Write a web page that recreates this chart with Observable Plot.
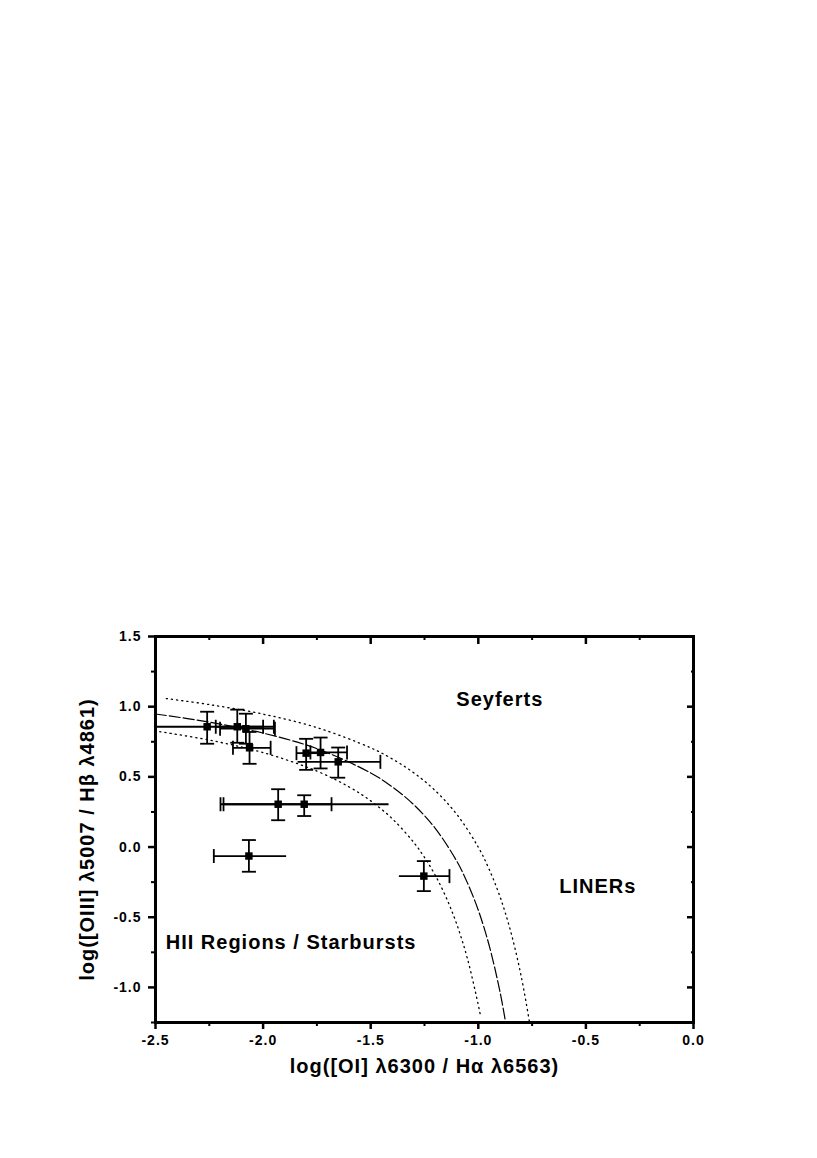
<!DOCTYPE html>
<html>
<head>
<meta charset="utf-8">
<script src="https://cdn.jsdelivr.net/npm/d3@7"></script>
<script src="https://cdn.jsdelivr.net/npm/@observablehq/plot@0.6"></script>
<style>
  html, body { margin: 0; padding: 0; background: #fff; }
  #chart svg text { letter-spacing: 1px; }
</style>
</head>
<body>
<div id="chart"></div>
<script>
// ---- data ----
const ptX  = [-2.26, -2.12, -2.08, -2.063, -1.80, -1.733, -1.651, -1.93, -1.809, -2.066, -1.253];
const ptY  = [0.857, 0.857, 0.843, 0.707, 0.669, 0.674, 0.607, 0.305, 0.305, -0.064, -0.207];
const ptXlo = [-2.56, -2.22, -2.20, -2.14, -1.845, -1.78, -1.84, -2.198, -2.184, -2.229, -1.369];
const ptXhi = [-1.95, -2.00, -1.945, -1.965, -1.70, -1.61, -1.455, -1.682, -1.417, -1.893, -1.134];
const ptYlo = [0.736, 0.743, 0.736, 0.593, 0.55, 0.56, 0.494, 0.191, 0.221, -0.176, -0.314];
const ptYhi = [0.964, 0.979, 0.95, 0.82, 0.771, 0.78, 0.709, 0.412, 0.369, 0.05, -0.10];
const xCapLo = [false, true, true, true, true, true, false, true, true, true, false];
const xCapHi = [true, true, true, true, false, true, true, true, false, false, true];

// maximum-starburst line (dashed) and its +/- bands (dotted)
const midX = [-2.5, -2.25, -2.0, -1.75, -1.5, -1.4, -1.3, -1.2, -1.1, -1.05, -1.0, -0.95, -0.9, -0.873];
const midY = [0.948, 0.890, 0.812, 0.701, 0.528, 0.429, 0.302, 0.133, -0.101, -0.257, -0.450, -0.698, -1.025, -1.25];
const upX  = [-2.45, -2.25, -2.0, -1.75, -1.5, -1.4, -1.3, -1.2, -1.1, -1.0, -0.95, -0.9, -0.85, -0.8, -0.762];
const upY  = [1.058, 1.015, 0.947, 0.851, 0.707, 0.628, 0.529, 0.402, 0.233, -0.001, -0.157, -0.350, -0.598, -0.925, -1.25];
const loX  = [-2.48, -2.25, -2.0, -1.75, -1.6, -1.5, -1.4, -1.3, -1.25, -1.2, -1.15, -1.1, -1.05, -1.0, -0.99];
const loY  = [0.822, 0.762, 0.673, 0.541, 0.428, 0.329, 0.202, 0.033, -0.074, -0.201, -0.357, -0.550, -0.798, -1.125, -1.20];

const xTicks = [-2.5, -2.0, -1.5, -1.0, -0.5, 0.0];
const xMinor = [-2.25, -1.75, -1.25, -0.75, -0.25];
const yTicks = [-1.0, -0.5, 0.0, 0.5, 1.0, 1.5];
const yMinor = [-1.25, -0.75, -0.25, 0.25, 0.75, 1.25];

const regionNames = ["Seyferts", "LINERs", "HII Regions / Starbursts"];
const xLabel = "log([OI] λ6300 / Hα λ6563)";
const yLabel = "log([OIII] λ5007 / Hβ λ4861)";

// ---- build tables ----
const pts = ptX.map((x, i) => ({x, y: ptY[i], xlo: ptXlo[i], xhi: ptXhi[i], ylo: ptYlo[i], yhi: ptYhi[i], capLo: xCapLo[i], capHi: xCapHi[i]}));
const mid = midX.map((x, i) => ({x, y: midY[i]}));
const up = upX.map((x, i) => ({x, y: upY[i]}));
const lo = loX.map((x, i) => ({x, y: loY[i]}));

const hCap = {draw(ctx, size) { const r = Math.sqrt(size / Math.PI); ctx.moveTo(-r, 0); ctx.lineTo(r, 0); }};
const vCap = {draw(ctx, size) { const r = Math.sqrt(size / Math.PI); ctx.moveTo(0, -r); ctx.lineTo(0, r); }};
const fmt = d => d.toFixed(1);
const FONT = "'Liberation Sans', Arial, sans-serif";

const chart = Plot.plot({
  width: 817,
  height: 1158,
  marginLeft: 155,
  marginRight: 124,
  marginTop: 636,
  marginBottom: 136,
  x: {domain: [-2.5, 0], axis: null},
  y: {domain: [-1.25, 1.5], axis: null},
  style: {fontFamily: FONT, fontWeight: "bold", color: "#000", background: "#fff"},
  marks: [
    // curves
    Plot.line(up, {x: "x", y: "y", curve: "catmull-rom", stroke: "#000", strokeWidth: 1.3, strokeDasharray: "1.2,4"}),
    Plot.line(lo, {x: "x", y: "y", curve: "catmull-rom", stroke: "#000", strokeWidth: 1.3, strokeDasharray: "1.2,4"}),
    Plot.line(mid, {x: "x", y: "y", curve: "catmull-rom", stroke: "#000", strokeWidth: 1.2, strokeDasharray: "11,3"}),
    // error bars
    Plot.link(pts, {x1: "xlo", x2: "xhi", y1: "y", y2: "y", stroke: "#000", strokeWidth: 1.8, clip: true}),
    Plot.link(pts, {x1: "x", x2: "x", y1: "ylo", y2: "yhi", stroke: "#000", strokeWidth: 1.8}),
    Plot.dot(pts, {x: "x", y: "ylo", symbol: hCap, r: 7, stroke: "#000", strokeWidth: 1.8, fill: "none"}),
    Plot.dot(pts, {x: "x", y: "yhi", symbol: hCap, r: 7, stroke: "#000", strokeWidth: 1.8, fill: "none"}),
    Plot.dot(pts.filter(d => d.capLo), {x: "xlo", y: "y", symbol: vCap, r: 7, stroke: "#000", strokeWidth: 1.8, fill: "none", clip: true}),
    Plot.dot(pts.filter(d => d.capHi), {x: "xhi", y: "y", symbol: vCap, r: 7, stroke: "#000", strokeWidth: 1.8, fill: "none", clip: true}),
    Plot.dot(pts, {x: "x", y: "y", symbol: "square", r: 4.2, fill: "#000", stroke: "none"}),
    // region labels
    Plot.text([regionNames[0]], {x: -0.90, y: 1.05, text: d => d, fontSize: 20, fontWeight: "bold", fontFamily: FONT}),
    Plot.text([regionNames[1]], {x: -0.445, y: -0.28, text: d => d, fontSize: 20, fontWeight: "bold", fontFamily: FONT}),
    Plot.text([regionNames[2]], {x: -1.87, y: -0.68, text: d => d, fontSize: 20, fontWeight: "bold", fontFamily: FONT}),
    // axes
    Plot.axisX({ticks: xTicks, anchor: "bottom", tickSize: 7, tickPadding: 6, tickFormat: fmt, strokeWidth: 2.5, label: null, fontSize: 14, fontWeight: "bold", fontFamily: FONT}),
    Plot.axisX({ticks: xMinor, anchor: "bottom", tickSize: 4, tickFormat: () => "", strokeWidth: 2, label: null}),
    Plot.axisX({ticks: xTicks, anchor: "top", tickSize: -7, tickFormat: () => "", strokeWidth: 2.5, label: null}),
    Plot.axisX({ticks: xMinor, anchor: "top", tickSize: -3, tickFormat: () => "", strokeWidth: 2, label: null}),
    Plot.axisY({ticks: yTicks, anchor: "left", tickSize: 7, tickPadding: 7, tickFormat: fmt, strokeWidth: 2.5, label: null, fontSize: 14, fontWeight: "bold", fontFamily: FONT}),
    Plot.axisY({ticks: yMinor, anchor: "left", tickSize: 4, tickFormat: () => "", strokeWidth: 2, label: null}),
    Plot.axisY({ticks: yTicks, anchor: "right", tickSize: -7, tickFormat: () => "", strokeWidth: 2.5, label: null}),
    Plot.axisY({ticks: yMinor, anchor: "right", tickSize: -3, tickFormat: () => "", strokeWidth: 2, label: null}),
    Plot.frame({stroke: "#000", strokeWidth: 3}),
    // axis titles
    Plot.text([xLabel], {frameAnchor: "bottom", lineAnchor: "middle", textAnchor: "middle", dy: 44, text: d => d, fontSize: 20, fontWeight: "bold", fontFamily: FONT}),
    Plot.text([yLabel], {frameAnchor: "left", lineAnchor: "middle", textAnchor: "middle", dx: -68, dy: 10, rotate: -90, text: d => d, fontSize: 20, fontWeight: "bold", fontFamily: FONT})
  ]
});
document.getElementById("chart").appendChild(chart);
</script>
</body>
</html>
